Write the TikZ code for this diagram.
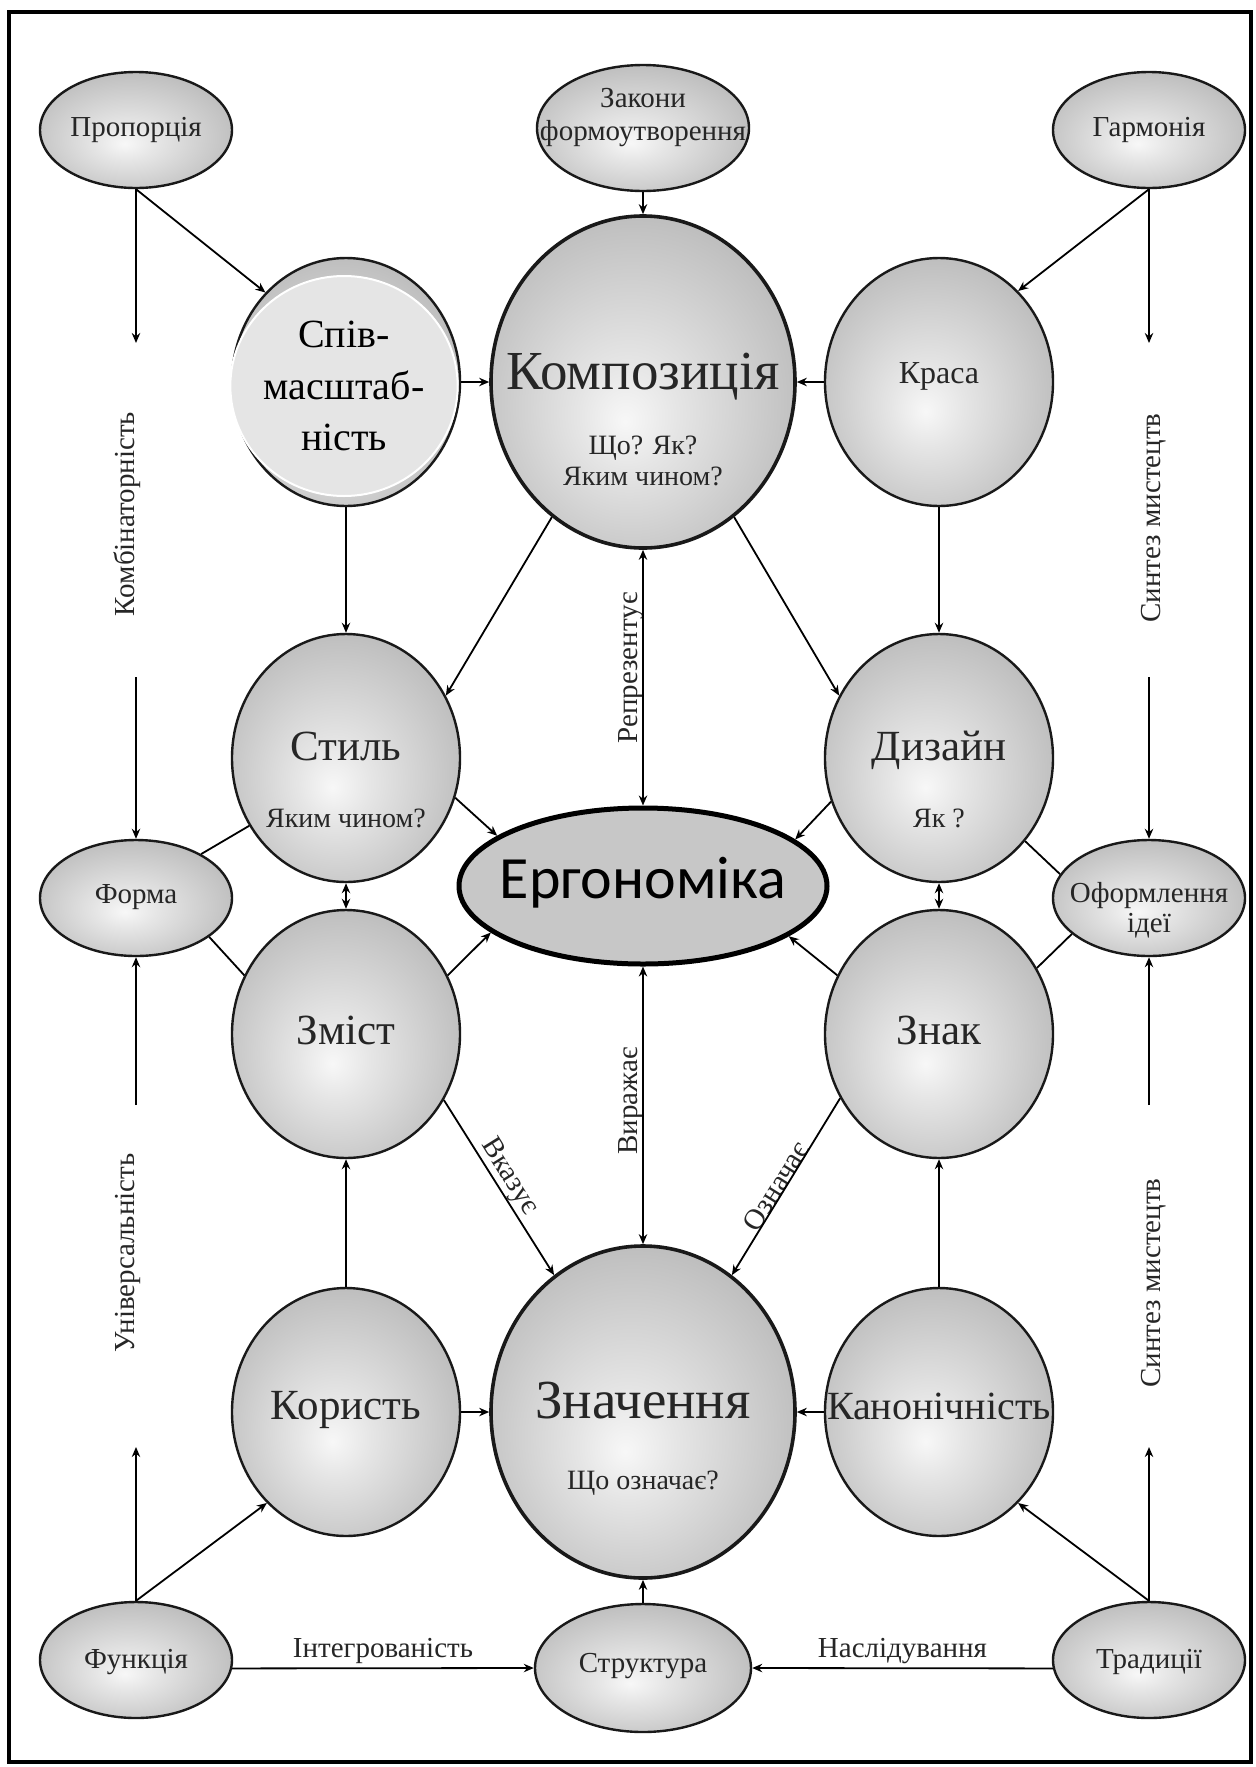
\documentclass[tikz,border=0pt]{standalone}
\usepackage{fontspec}
\setmainfont{Liberation Serif}
\newfontfamily\ergfont{Carlito}
\usetikzlibrary{shapes.geometric,arrows.meta,positioning}
\pgfdeclareradialshading{globe}{\pgfpoint{-3bp}{-6bp}}{color(0bp)=(white!97!black); color(8bp)=(white!90!black); color(26bp)=(black!24); color(42bp)=(black!38); color(50bp)=(black!46)}
\begin{document}
\begin{tikzpicture}[x=0.5pt, y=-0.5pt,
        ball/.style={ellipse, draw=black!90, line width=1.2pt, shade, shading=globe, inner sep=0pt},
        smallball/.style={ball, minimum width=96pt, minimum height=58pt},
        midball/.style={ball, minimum width=114pt, minimum height=124pt},
        bigball/.style={ball, line width=1.8pt, minimum width=152pt, minimum height=166pt},
        txt/.style={anchor=base, inner sep=0pt, text=black!85},
        smalltxt/.style={txt, font=\fontsize{14.5}{16}\selectfont},
        midtxt/.style={txt, font=\fontsize{21.5}{24}\selectfont},
        bigtxt/.style={txt, font=\fontsize{27.5}{30}\selectfont},
        subtxt/.style={txt, font=\fontsize{14}{16}\selectfont},
        sidetxt/.style={anchor=base, inner sep=0pt, text=black!85, font=\fontsize{14.5}{16}\selectfont},
        arr/.style={-{Stealth[length=5pt,width=4.2pt]}, line width=0.9pt},
        twoarr/.style={{Stealth[length=5pt,width=4.2pt]}-{Stealth[length=5pt,width=4.2pt]}, line width=0.9pt},
        link/.style={line width=0.9pt}]
        \useasboundingbox (0,0) rectangle (1255,1767);
        \draw[line width=2pt] (9,12) rectangle (1251,1762);

        \node[smallball] (prop) at (136,130) {};
        \node[smallball, minimum width=106pt, minimum height=63pt] (zak) at (643,128) {};
        \node[smallball] (harm) at (1149,130) {};
        \node[midball] (spiv) at (346,382) {};
        \node[bigball] (komp) at (643,382) {};
        \node[midball] (krasa) at (939,382) {};
        \node[midball] (styl) at (346,758) {};
        \node[midball] (dyz) at (939,758) {};
        \node[smallball] (forma) at (136,898) {};
        \node[smallball] (oform) at (1149,898) {};
        \node[ellipse, draw, line width=2.5pt, fill=black!22, inner sep=0pt,
              minimum width=184pt, minimum height=78pt] (erg) at (643,886) {};
        \node[midball] (zmist) at (346,1034) {};
        \node[midball] (znak) at (939,1034) {};
        \node[midball] (koryst) at (346,1412) {};
        \node[bigball] (znach) at (643,1412) {};
        \node[midball] (kanon) at (939,1412) {};
        \node[smallball] (funk) at (136,1660) {};
        \node[smallball, minimum width=108pt, minimum height=64pt] (strukt) at (643,1668) {};
        \node[smallball] (trad) at (1149,1660) {};

        \node[ellipse, fill=black!10, draw=white, line width=1pt, inner sep=0pt,
              minimum width=109pt, minimum height=110pt, align=center,
              font=\fontsize{20}{25.75}\selectfont] (spivT) at (344,386) {Спів-\\масштаб-\\ність};

        \node[smalltxt] (propT) at (136,136) {Пропорція};
        \node[smalltxt] (zakT1) at (643,107) {Закони};
        \node[smalltxt] (zakT2) at (643,140) {формоутворення};
        \node[smalltxt] (harmT) at (1149,136) {Гармонія};
        \node[bigtxt] (kompT) at (643,389) {Композиція};
        \node[subtxt] (kompS1) at (643,454) {Що? Як?};
        \node[subtxt] (kompS2) at (643,485) {Яким чином?};
        \node[txt, font=\fontsize{16}{18}\selectfont] (krasaT) at (939,383) {Краса};
        \node[midtxt] (stylT) at (346,760) {Стиль};
        \node[subtxt] (stylS) at (346,827) {Яким чином?};
        \node[midtxt] (dyzT) at (939,760) {Дизайн};
        \node[subtxt] (dyzS) at (939,827) {Як ?};
        \node[smalltxt] (formaT) at (136,903) {Форма};
        \node[smalltxt] (oformT1) at (1149,902) {Оформлення};
        \node[smalltxt] (oformT2) at (1149,932) {ідеї};
        \node[anchor=base, inner sep=0pt, font=\ergfont\fontsize{30}{34}\selectfont] (ergT) at (643,898) {Ергономіка};
        \node[midtxt] (zmistT) at (346,1044) {Зміст};
        \node[midtxt] (znakT) at (939,1044) {Знак};
        \node[midtxt] (korystT) at (346,1419) {Користь};
        \node[bigtxt] (znachT) at (643,1418) {Значення};
        \node[subtxt] (znachS) at (643,1489) {Що означає?};
        \node[midtxt, font=\fontsize{20}{24}\selectfont] (kanonT) at (939,1419) {Канонічність};
        \node[smalltxt] (funkT) at (136,1668) {Функція};
        \node[smalltxt] (struktT) at (643,1672) {Структура};
        \node[smalltxt] (tradT) at (1149,1668) {Традиції};

        \node[sidetxt, rotate=90] (komb) at (134,514) {Комбінаторність};
        \node[sidetxt, rotate=90] (synt1) at (1160,518) {Синтез мистецтв};
        \node[sidetxt, rotate=90] (univ) at (134,1253) {Універсальність};
        \node[sidetxt, rotate=90] (synt2) at (1160,1283) {Синтез мистецтв};
        \node[sidetxt, rotate=90] (repr) at (637,668) {Репрезентує};
        \node[sidetxt, rotate=90] (vyr) at (637,1101) {Виражає};
        \node[sidetxt, anchor=center, rotate=-58] (vkaz) at (509,1177) {Вказує};
        \node[sidetxt, anchor=center, rotate=58] (ozn) at (776,1186) {Означає};

        \coordinate (pa) at (136,343);
        \coordinate (pb) at (136,677);
        \coordinate (ha) at (1149,343);
        \coordinate (hb) at (1149,677);
        \coordinate (fa) at (136,1447);
        \coordinate (fb) at (136,1105);
        \coordinate (ta) at (1149,1447);
        \coordinate (tb) at (1149,1105);

        \draw[arr] (prop) -- (pa);
        \draw[arr] (pb) -- (forma);
        \draw[arr] (prop.south) -- (spiv.132);
        \draw[arr] (harm) -- (ha);
        \draw[arr] (hb) -- (oform);
        \draw[arr] (harm.south) -- (krasa.49);
        \draw[arr] (zak) -- (komp);
        \draw[arr] (spiv) -- (komp);
        \draw[arr] (krasa) -- (komp);
        \draw[arr] (spiv) -- (styl);
        \draw[arr] (krasa) -- (dyz);
        \draw[arr] (komp.236) -- (styl.32);
        \draw[arr] (komp.304) -- (dyz.148);
        \draw[twoarr] (komp) -- (erg);
        \draw[twoarr] (erg) -- (znach);
        \draw[arr] (styl.-20) -- (erg.161);
        \draw[arr] (dyz.202) -- (erg.17);
        \draw[arr] (zmist.30) -- (erg.197);
        \draw[arr] (znak.150) -- (erg.-19);
        \draw[twoarr] (styl) -- (zmist);
        \draw[twoarr] (dyz) -- (znak);
        \draw[link] (forma.34) -- (styl.215);
        \draw[link] (forma.-28) -- (zmist.150);
        \draw[link] (dyz.-44) -- (oform.165);
        \draw[link] (znak.34) -- (oform.205);
        \draw[arr] (zmist.-34) -- (znach.123);
        \draw[arr] (znak.213) -- (znach.57);
        \draw[arr] (koryst) -- (zmist);
        \draw[arr] (kanon) -- (znak);
        \draw[arr] (koryst) -- (znach);
        \draw[arr] (kanon) -- (znach);
        \draw[arr] (funk.north) -- (koryst.229);
        \draw[arr] (funk) -- (fa);
        \draw[arr] (fb) -- (forma);
        \draw[arr] (trad.north) -- (kanon.311);
        \draw[arr] (trad) -- (ta);
        \draw[arr] (tb) -- (oform);
        \draw[arr] (funk.-5) -- node[above=2pt, sidetxt, anchor=south] (integr) {Інтегрованість} (strukt.west);
        \draw[arr] (trad.185) -- node[above=2pt, sidetxt, anchor=south] (nasl) {Наслідування} (strukt.east);
        \draw[arr] (strukt) -- (znach);
\end{tikzpicture}
\end{document}
